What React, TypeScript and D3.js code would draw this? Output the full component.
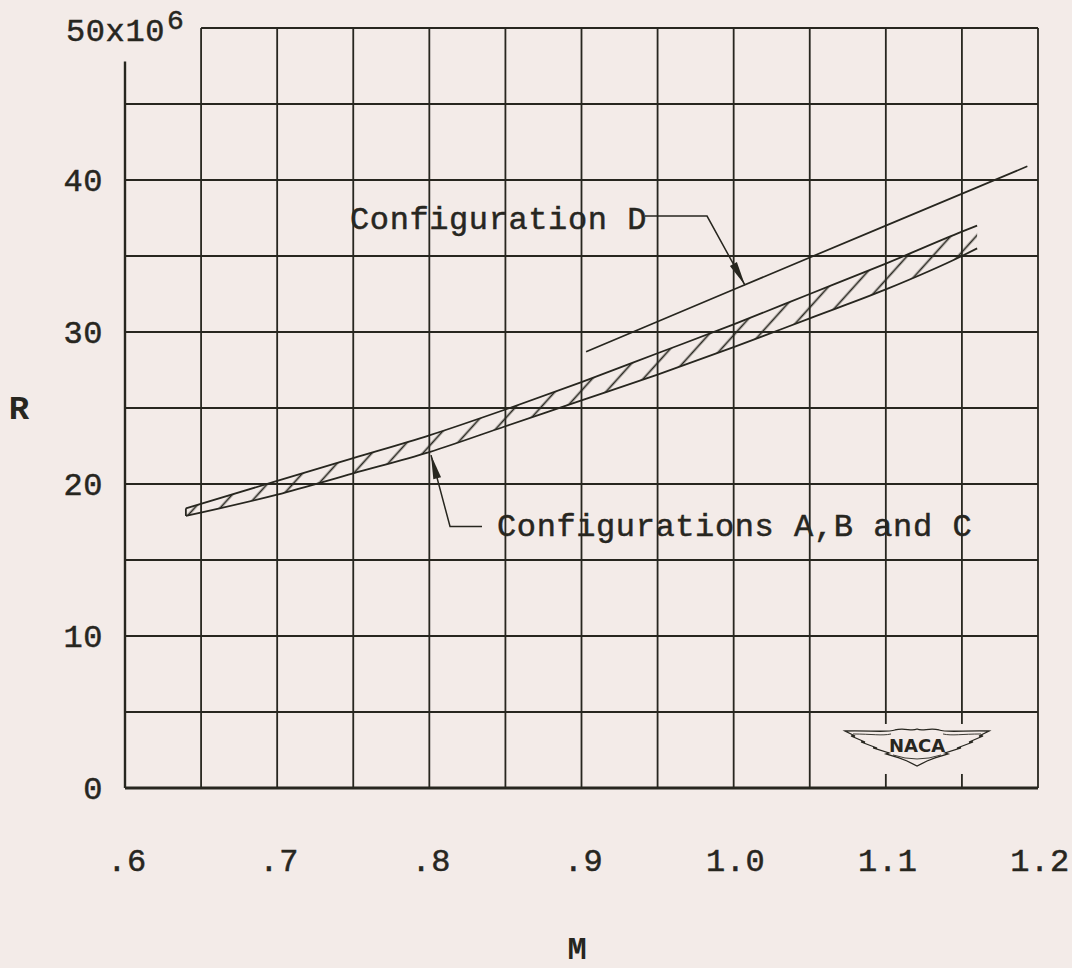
import { useEffect, useRef } from "react";
import * as d3 from "d3";

// Reynolds number band for configurations A, B and C
const bandM = [0.64, 0.7, 0.75, 0.8, 0.85, 0.9, 0.95, 1.0, 1.05, 1.1, 1.15, 1.16];
const bandUpper = [18.4, 20.2, 21.7, 23.2, 24.9, 26.7, 28.6, 30.5, 32.5, 34.5, 36.6, 37.0];
const bandLower = [17.9, 19.3, 20.7, 22.1, 23.8, 25.5, 27.2, 29.0, 30.9, 32.8, 35.0, 35.5];

// configuration D
const configDM = [0.903, 1.0, 1.1, 1.193];
const configDR = [28.7, 32.8, 37.0, 40.9];

const xTicks = [0.6, 0.7, 0.8, 0.9, 1.0, 1.1, 1.2];
const xTickLabels = [".6", ".7", ".8", ".9", "1.0", "1.1", "1.2"];
const yTicks = [0, 10, 20, 30, 40];
const yTickLabels = ["0", "10", "20", "30", "40"];

// annotation anchors, in data units [M, R]
const dLeader = [[0.9417, 37.63], [0.9825, 37.63], [1.0074, 33.09]];
const abcLeader = [[0.8346, 17.2], [0.8136, 17.2], [0.8011, 21.9]];
const dLabel = [0.7479, 36.78];
const abcLabel = [0.8445, 16.6];
const logoAt = [1.1205, 2.83];

const W = 1072;
const H = 968;
const INK = "#27261f";
const PAPER = "#f3ebe8";
const MONO = "'Liberation Mono', 'DejaVu Sans Mono', monospace";

export default function App() {
  const ref = useRef<SVGSVGElement>(null);

  useEffect(() => {
    const svg = d3.select(ref.current);
    svg.selectAll("*").remove();

    const x = d3.scaleLinear().domain([0.6, 1.2]).range([125, 1038]);
    const y = d3.scaleLinear().domain([0, 50]).range([788, 28]);

    svg.append("rect").attr("width", W).attr("height", H).attr("fill", PAPER);

    // grid
    const g = svg.append("g").attr("stroke", INK).attr("fill", "none");
    const xs = x.ticks(12);
    const ys = y.ticks(10);
    xs.forEach((m, i) => {
      const top = i === 0 ? 47.8 : 50;
      g.append("line")
        .attr("x1", x(m)).attr("x2", x(m))
        .attr("y1", y(0)).attr("y2", y(top))
        .attr("stroke-width", i === 0 ? 2.4 : 1.8);
    });
    ys.forEach((r, i) => {
      const left = r === 50 ? 0.65 : 0.6;
      g.append("line")
        .attr("x1", x(left)).attr("x2", x(1.2))
        .attr("y1", y(r)).attr("y2", y(r))
        .attr("stroke-width", i === 0 ? 2.8 : 1.8);
    });

    // band A,B,C
    const pts = (ms: number[], rs: number[]) => ms.map((m, i) => [x(m), y(rs[i])] as [number, number]);
    const up = pts(bandM, bandUpper);
    const lo = pts(bandM, bandLower);
    const smooth = d3.line().curve(d3.curveMonotoneX);
    const line = d3.line();

    const defs = svg.append("defs");
    defs.append("clipPath").attr("id", "bandClip")
      .append("path").attr("d", line([...up, ...lo.slice().reverse()]) + "Z");
    const pat = defs.append("pattern")
      .attr("id", "hatch")
      .attr("patternUnits", "userSpaceOnUse")
      .attr("width", 19).attr("height", 19)
      .attr("patternTransform", "rotate(42)");
    pat.append("line")
      .attr("x1", 9.5).attr("x2", 9.5).attr("y1", 0).attr("y2", 19)
      .attr("stroke", INK).attr("stroke-width", 1.7);

    svg.append("rect")
      .attr("x", x(0.6)).attr("y", y(50))
      .attr("width", x(1.2) - x(0.6)).attr("height", y(0) - y(50))
      .attr("fill", "url(#hatch)")
      .attr("clip-path", "url(#bandClip)");

    const bandStroke = (d: string | null) =>
      svg.append("path").attr("d", d).attr("fill", "none").attr("stroke", INK).attr("stroke-width", 1.8);
    bandStroke(smooth(up));
    bandStroke(smooth(lo));
    bandStroke(line([lo[0], up[0]]));

    // configuration D
    svg.append("path")
      .attr("d", line(pts(configDM, configDR)))
      .attr("fill", "none").attr("stroke", INK).attr("stroke-width", 1.7);

    // leaders with arrowheads
    const leader = (p: number[][]) => {
      const px = p.map(([m, r]) => [x(m), y(r)] as [number, number]);
      svg.append("path").attr("d", line(px))
        .attr("fill", "none").attr("stroke", INK).attr("stroke-width", 1.5);
      const [a, b] = px.slice(-2);
      const dx = b[0] - a[0], dy = b[1] - a[1];
      const len = Math.hypot(dx, dy);
      const ux = dx / len, uy = dy / len;
      const L = 24, hw = 4;
      const bx = b[0] - ux * L, by = b[1] - uy * L;
      svg.append("path")
        .attr("d", `M${b[0]},${b[1]}L${bx - uy * hw},${by + ux * hw}L${bx + uy * hw},${by - ux * hw}Z`)
        .attr("fill", INK);
    };
    leader(dLeader);
    leader(abcLeader);

    const txt = (sel: d3.Selection<any, any, any, any>) =>
      sel.attr("font-family", MONO).attr("font-size", 32).attr("letter-spacing", 0.6)
        .attr("fill", INK).attr("stroke", INK).attr("stroke-width", 0.5);

    txt(svg.append("text")).attr("x", x(dLabel[0])).attr("y", y(dLabel[1])).text("Configuration D");
    txt(svg.append("text")).attr("x", x(abcLabel[0])).attr("y", y(abcLabel[1])).text("Configurations A,B and C");

    // tick labels
    yTicks.forEach((r, i) => {
      txt(svg.append("text"))
        .attr("x", x(0.6) - 22).attr("y", y(r) + 11)
        .attr("text-anchor", "end")
        .text(yTickLabels[i]);
    });
    const top = txt(svg.append("text")).attr("x", 66).attr("y", y(50) + 13);
    top.append("tspan").text("50x10");
    top.append("tspan").attr("dy", -12).attr("dx", 2).attr("font-size", 28).text("6");

    xTicks.forEach((m, i) => {
      txt(svg.append("text"))
        .attr("x", x(m) + 2).attr("y", y(0) + 83)
        .attr("text-anchor", "middle")
        .text(xTickLabels[i]);
    });

    // axis titles
    svg.append("text").attr("x", 19).attr("y", 419).attr("text-anchor", "middle")
      .attr("font-family", MONO).attr("font-weight", "bold").attr("font-size", 34).attr("fill", INK)
      .text("R");
    svg.append("text").attr("x", 577).attr("y", 959).attr("text-anchor", "middle")
      .attr("font-family", MONO).attr("font-weight", "bold").attr("font-size", 32).attr("fill", INK)
      .text("M");

    // NACA logo
    const lx = x(logoAt[0]), ly = y(logoAt[1]);
    svg.append("rect").attr("x", lx - 76).attr("y", ly - 21).attr("width", 152).attr("height", 50).attr("fill", PAPER);
    const logo = svg.append("g").attr("transform", `translate(${lx},${ly})`)
      .attr("fill", "none").attr("stroke", INK);
    logo.append("path")
      .attr("d",
        "M-72,-14 C-50,-15 -30,-12 -22,-15 C-12,-18 -6,-13 0,-16 C6,-13 12,-18 22,-15 C30,-12 50,-15 72,-14 " +
        "L62,-9 L66,-9 L52,-3 L56,-3 L40,3 L44,3 L28,8 L31,9 L18,13 L10,16 L0,21 " +
        "L-10,16 L-18,13 L-31,9 L-28,8 L-44,3 L-40,3 L-56,-3 L-52,-3 L-66,-9 L-62,-9 Z")
      .attr("stroke-width", 1.3);
    logo.append("path")
      .attr("d", "M-64,-11 C-45,-11 -35,-9 -26,-11 M26,-11 C35,-9 45,-11 64,-11 M-24,10 Q0,18 24,10")
      .attr("stroke-width", 0.9);
    logo.append("text").attr("x", 0).attr("y", 7).attr("text-anchor", "middle")
      .attr("font-family", "'DejaVu Sans', sans-serif").attr("font-size", 18).attr("font-weight", "bold")
      .attr("fill", INK).attr("stroke", "none")
      .text("NACA");
  }, []);

  return (
    <svg ref={ref} width={W} height={H} style={{ position: "absolute", left: 0, top: 0 }}></svg>
  );
}
